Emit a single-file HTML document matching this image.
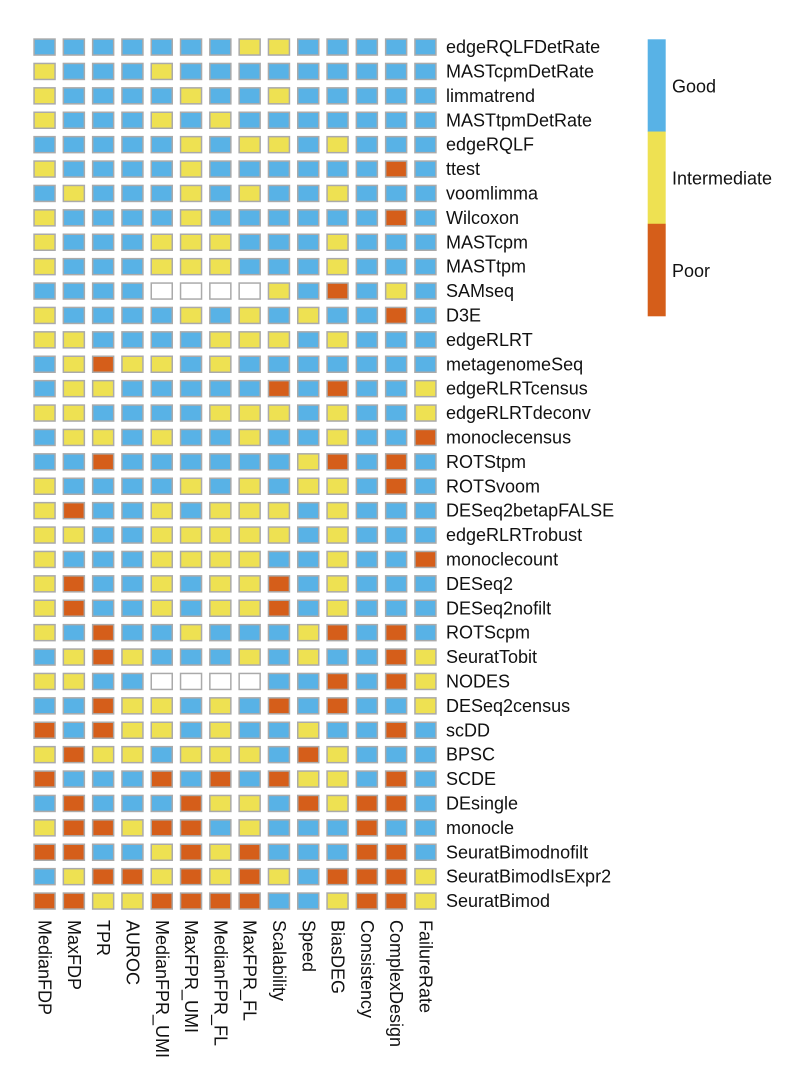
<!DOCTYPE html>
<html><head><meta charset="utf-8"><style>
html,body{margin:0;padding:0;background:#fff;}
svg{display:block;font-family:"Liberation Sans",Arial,sans-serif;}
</style></head><body>
<svg id="chart" width="804" height="1074" viewBox="0 0 804 1074"></svg>
<script>
const methods=["edgeRQLFDetRate","MASTcpmDetRate","limmatrend","MASTtpmDetRate","edgeRQLF","ttest","voomlimma","Wilcoxon","MASTcpm","MASTtpm","SAMseq","D3E","edgeRLRT","metagenomeSeq","edgeRLRTcensus","edgeRLRTdeconv","monoclecensus","ROTStpm","ROTSvoom","DESeq2betapFALSE","edgeRLRTrobust","monoclecount","DESeq2","DESeq2nofilt","ROTScpm","SeuratTobit","NODES","DESeq2census","scDD","BPSC","SCDE","DEsingle","monocle","SeuratBimodnofilt","SeuratBimodIsExpr2","SeuratBimod"];
const criteria=["MedianFDP","MaxFDP","TPR","AUROC","MedianFPR_UMI","MaxFPR_UMI","MedianFPR_FL","MaxFPR_FL","Scalability","Speed","BiasDEG","Consistency","ComplexDesign","FailureRate"];
const ratings=[
"GGGGGGGYYGGGGG","YGGGYGGGGGGGGG","YGGGGYGGYGGGGG","YGGGYGYGGGGGGG","GGGGGYGYYGYGGG",
"YGGGGYGGGGGGRG","GYGGGYGYGGYGGG","YGGGGYGGGGGGRG","YGGGYYYGGGYGGG","YGGGYYYGGGYGGG",
"GGGGWWWWYGRGYG","YGGGGYGYGYGGRG","YYGGGGYYYGYGGG","GYRYYGYGGGGGGG","GYYGGGGGRGRGGY",
"YYGGGGYYYGYGGY","GYYGYGGYGGYGGR","GGRGGGGGGYRGRG","YGGGGYGYGYYGRG","YRGGYGYYYGYGGG",
"YYGGYYYYYGYGGG","YGGGYYYYGGYGGR","YRGGYGYYRGYGGG","YRGGYGYYRGYGGG","YGRGGYGGGYRGRG",
"GYRYGGGYGYGGRY","YYGGWWWWGGRGRY","GGRYYGYGRGRGGY","RGRYYGYGGYGGRG","YRYYGYYYGRYGGG",
"RGGGRGRGRYYGRG","GRGGGRYYGRYRRG","YRRYRRGYGGGRGG","RRGGYRYRGGGRRG","GYRRYRYRYGRRRY",
"RRYYRRRRGGYRRY"];
const levels=["Good","Intermediate","Poor"];
const colors={G:"#58B2E6",Y:"#EEE152",R:"#D55E1A",W:"#FFFFFF"};
const NS="http://www.w3.org/2000/svg";
const svg=document.getElementById("chart");
const x0=33.3,colPitch=29.3,y0=38.3,rowPitch=24.4,cw=22.5,ch=17.5,fs=18;
const xPos=i=>x0+i*colPitch, yPos=j=>y0+j*rowPitch;
function mk(t,a){const e=document.createElementNS(NS,t);for(const k in a)e.setAttribute(k,a[k]);svg.appendChild(e);return e;}
methods.forEach((m,j)=>{
  criteria.forEach((c,i)=>{
    const code=ratings[j][i];
    const r=mk("rect",{x:xPos(i)+0.75,y:yPos(j)+0.75,width:cw-1.5,height:ch-1.5,fill:colors[code],stroke:"#aaaaaa","stroke-width":1.5});
    
    
  });
  const t=mk("text",{x:446,y:yPos(j)+ch/2+6,"font-size":fs,fill:"#111"});
  t.textContent=m;
  
  
});
criteria.forEach((c,i)=>{
  const cx=xPos(i)+cw/2-6;
  const t=mk("text",{x:0,y:0,"font-size":fs,fill:"#111",transform:"translate("+cx+",920) rotate(90)"});
  t.textContent=c;
  
  
});
const legTop=39.3,legBot=316,legH=(legBot-legTop)/levels.length;
levels.forEach((l,k)=>{
  const code=["G","Y","R"][k];
  const r=mk("rect",{x:647.7,y:legTop+k*legH,width:18,height:legH+0.3,fill:colors[code]});
  
  
  const t=mk("text",{x:672,y:legTop+k*legH+legH/2+7,"font-size":fs,fill:"#111"});
  t.textContent=l;
  
  
});
</script>
</body></html>
